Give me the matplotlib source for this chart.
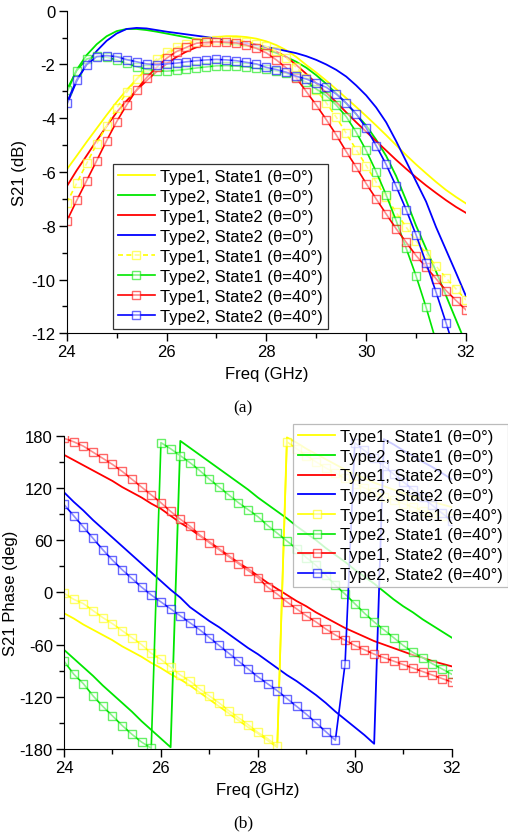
import numpy as np
import matplotlib
matplotlib.use("Agg")
import matplotlib.pyplot as plt
from matplotlib.ticker import MultipleLocator
from matplotlib.colors import to_rgba

plt.rcParams['font.family'] = ['Liberation Sans', 'DejaVu Sans']
plt.rcParams['axes.unicode_minus'] = False

# Frequency grid (GHz)
freq = np.round(np.arange(24.0, 32.0001, 0.2), 1)

labels = [
    "Type1, State1 (θ=0°)", "Type2, State1 (θ=0°)",
    "Type1, State2 (θ=0°)", "Type2, State2 (θ=0°)",
    "Type1, State1 (θ=40°)", "Type2, State1 (θ=40°)",
    "Type1, State2 (θ=40°)", "Type2, State2 (θ=40°)",
]
colors = ["#FFFF00", "#00E600", "#FF0000", "#0000FF"]

# ---------------- S21 magnitude (dB) ----------------
mag_t1s1_0 = [-5.91, -5.40, -4.88, -4.38, -3.88, -3.40, -2.95, -2.55, -2.18, -1.87,
              -1.60, -1.40, -1.24, -1.12, -1.03, -0.98, -0.95, -0.95, -0.98, -1.04,
              -1.14, -1.28, -1.47, -1.72, -2.02, -2.30, -2.60, -2.92, -3.25, -3.58,
              -3.92, -4.27, -4.63, -5.00, -5.37, -5.72, -6.05, -6.37, -6.67, -6.93, -7.17]
mag_t2s1_0 = [-3.05, -2.20, -1.65, -1.25, -0.95, -0.76, -0.68, -0.68, -0.72, -0.78,
              -0.85, -0.92, -0.99, -1.06, -1.12, -1.17, -1.21, -1.25, -1.30, -1.37,
              -1.45, -1.57, -1.72, -1.90, -2.12, -2.40, -2.72, -3.08, -3.45, -3.85,
              -4.27, -4.80, -5.40, -6.15, -7.05, -8.00, -8.85, -9.70, -10.60, -11.50, -12.40]
mag_t1s2_0 = [-6.54, -5.94, -5.39, -4.83, -4.30, -3.78, -3.35, -2.96, -2.60, -2.27,
              -1.98, -1.72, -1.52, -1.36, -1.24, -1.17, -1.14, -1.14, -1.18, -1.26,
              -1.37, -1.52, -1.72, -2.02, -2.35, -2.70, -3.05, -3.40, -3.78, -4.15,
              -4.50, -4.85, -5.20, -5.55, -5.88, -6.20, -6.50, -6.78, -7.05, -7.30, -7.52]
mag_t2s2_0 = [-3.50, -2.62, -1.98, -1.50, -1.12, -0.85, -0.68, -0.64, -0.66, -0.72,
              -0.78, -0.83, -0.88, -0.93, -0.98, -1.04, -1.10, -1.15, -1.21, -1.28,
              -1.35, -1.42, -1.50, -1.58, -1.69, -1.83, -2.00, -2.20, -2.45, -2.78,
              -3.15, -3.60, -4.15, -4.85, -5.60, -6.35, -7.10, -8.05, -8.90, -9.75, -10.62]
mag_t1s1_40 = [-7.15, -6.42, -5.68, -4.96, -4.28, -3.63, -3.04, -2.54, -2.11, -1.80,
               -1.55, -1.36, -1.24, -1.15, -1.12, -1.08, -1.08, -1.12, -1.15, -1.24,
               -1.33, -1.51, -1.76, -2.11, -2.50, -2.94, -3.43, -3.96, -4.56, -5.17,
               -5.76, -6.38, -6.94, -7.50, -8.05, -8.57, -9.04, -9.50, -9.94, -10.35, -10.76]
mag_t2s1_40 = [-2.94, -2.23, -1.80, -1.70, -1.73, -1.83, -1.96, -2.08, -2.18, -2.23,
               -2.25, -2.22, -2.18, -2.13, -2.09, -2.05, -2.04, -2.06, -2.09, -2.14,
               -2.18, -2.24, -2.33, -2.48, -2.66, -2.91, -3.16, -3.51, -3.94, -4.52,
               -5.20, -5.99, -6.85, -7.81, -8.83, -9.87, -11.03, -12.30, -13.40, -14.60, -15.80]
mag_t1s2_40 = [-7.83, -7.06, -6.32, -5.58, -4.83, -4.13, -3.51, -2.94, -2.49, -2.11,
               -1.77, -1.52, -1.36, -1.21, -1.18, -1.15, -1.18, -1.20, -1.28, -1.40,
               -1.57, -1.83, -2.13, -2.50, -3.01, -3.51, -4.05, -4.62, -5.24, -5.82,
               -6.43, -7.00, -7.56, -8.11, -8.61, -9.11, -9.54, -9.97, -10.41, -10.78, -11.13]
mag_t2s2_40 = [-3.43, -2.57, -2.01, -1.71, -1.67, -1.71, -1.82, -1.90, -1.98, -2.01,
               -1.98, -1.95, -1.90, -1.86, -1.83, -1.81, -1.83, -1.86, -1.92, -1.98,
               -2.11, -2.19, -2.29, -2.44, -2.54, -2.69, -2.85, -3.10, -3.43, -3.84,
               -4.36, -5.02, -5.72, -6.53, -7.40, -8.34, -9.38, -10.47, -11.61, -12.80, -14.00]

# ---------------- S21 phase (deg) ----------------
ph_t1s1_0 = [-24, -30, -37, -43, -49, -55, -62, -68, -74, -81,
             -87, -94, -100, -107, -115, -123, -131, -139, -147, -155,
             -162, -170, -178, 178, 172, 165, 159, 153, 147, 141,
             136, 131, 126, 122, 118, 114, 110, 107, 104, 101, 98]
ph_t2s1_0 = [-66, -76, -86, -96, -107, -117, -127, -137, -148, -158,
             -168, -178, 174, 166, 158, 150, 142, 134, 126, 118,
             109, 101, 93, 85, 76, 68, 60, 51, 43, 35,
             26, 18, 10, 1, -8, -16, -23, -31, -38, -45, -52]
ph_t1s2_0 = [158, 152, 146, 140, 134, 128, 121, 115, 109, 102,
             96, 88, 80, 73, 65, 58, 50, 42, 34, 27,
             19, 11, 4, -3, -10, -16, -23, -29, -35, -41,
             -46, -51, -56, -60, -64, -68, -72, -75, -79, -82, -85]
ph_t2s2_0 = [115, 104, 94, 83, 73, 63, 53, 43, 33, 23,
             13, 3, -6, -17, -25, -33, -40, -48, -56, -64,
             -71, -79, -87, -95, -102, -110, -118, -127, -137, -146,
             -155, -164, -174, 176, 170, 163, 157, 150, 144, 137, 130]
ph_t1s1_40 = [-1, -8, -13, -21, -29, -36, -44, -52, -60, -70,
              -77, -86, -95, -102, -111, -119, -127, -136, -144, -152,
              -161, -168, -177, 173, 165, 157, 150, 143, 137, 131,
              125, 120, 115, 110, 106, 102, 98, 94, 91, 88, 85]
ph_t2s1_40 = [-79, -94, -105, -119, -131, -142, -153, -163, -172, -179,
              172, 165, 157, 149, 140, 130, 121, 112, 103, 95,
              87, 77, 68, 59, 50, 40, 31, 20, 8, -2,
              -13, -24, -34, -43, -52, -61, -69, -75, -82, -88, -94]
ph_t1s2_40 = [177, 173, 168, 161, 154, 147, 139, 130, 121, 112,
              103, 93, 84, 76, 66, 57, 49, 41, 33, 25,
              17, 6, -2, -11, -19, -27, -34, -42, -49, -55,
              -61, -66, -71, -75, -79, -83, -87, -91, -95, -99, -103]
ph_t2s2_40 = [101, 88, 75, 62, 49, 37, 26, 16, 6, -3,
              -11, -19, -27, -35, -43, -52, -61, -70, -79, -88,
              -97, -105, -113, -122, -131, -140, -150, -160, -170, -82,
              172, 163, 154, 145, 136, 127, 118, 109, 100, 91, 82]

mag_0 = [mag_t1s1_0, mag_t2s1_0, mag_t1s2_0, mag_t2s2_0]
mag_40 = [mag_t1s1_40, mag_t2s1_40, mag_t1s2_40, mag_t2s2_40]
ph_0 = [ph_t1s1_0, ph_t2s1_0, ph_t1s2_0, ph_t2s2_0]
ph_40 = [ph_t1s1_40, ph_t2s1_40, ph_t1s2_40, ph_t2s2_40]

W, H = 508, 837
FS = 12
fig = plt.figure(figsize=(W / 100, H / 100), dpi=100)


def px_axes(left, top, right, bottom):
    return fig.add_axes([left / W, 1 - bottom / H, (right - left) / W, (bottom - top) / H])


def style_axes(ax):
    for s in ("top", "right"):
        ax.spines[s].set_visible(False)
    ax.tick_params(which="major", direction="out", length=6, width=1, labelsize=FS, pad=2)
    ax.tick_params(which="minor", direction="out", length=3.5, width=1)
    ax.xaxis.set_major_locator(MultipleLocator(2))
    ax.xaxis.set_minor_locator(MultipleLocator(1))


def draw_curves(ax, d0, d40, dashed_first):
    handles = []
    for c, y, lab in zip(colors, d0, labels[:4]):
        h, = ax.plot(freq, y, color=c, lw=1.3, label=lab)
        handles.append(h)
    for i, (c, y, lab) in enumerate(zip(colors, d40, labels[4:])):
        ls = (0, (3, 2)) if (i == 0 and dashed_first) else "-"
        h, = ax.plot(freq, y, color=c, lw=1.2, ls=ls, marker="s", ms=5.2,
                     mec=to_rgba(c, 0.6), mfc=(1, 1, 1, 0.55), mew=1.0, label=lab)
        handles.append(h)
    return handles


def make_legend(ax, handles, edge, alpha, spacing, **kw):
    leg = ax.legend(handles=handles, borderaxespad=0, fontsize=FS, frameon=True,
                    fancybox=False, edgecolor=edge, framealpha=alpha,
                    handlelength=2.2, handletextpad=0.3, labelspacing=spacing,
                    borderpad=0.3, **kw)
    leg.get_frame().set_linewidth(0.9)
    return leg


# (a) magnitude
ax1 = px_axes(66.7, 11.7, 466, 334.3)
style_axes(ax1)
h1 = draw_curves(ax1, mag_0, mag_40, True)
ax1.set_xlim(24, 32)
ax1.set_ylim(-12, 0)
ax1.yaxis.set_major_locator(MultipleLocator(2))
ax1.yaxis.set_minor_locator(MultipleLocator(1))
ax1.set_xlabel("Freq (GHz)", fontsize=FS, labelpad=5)
ax1.set_ylabel("S21 (dB)", fontsize=FS, labelpad=3)
make_legend(ax1, h1, "#333333", 1, 0.3, loc="lower left", bbox_to_anchor=(0.116, 0.013))

# (b) phase
ax2 = px_axes(64, 436.7, 451.7, 750)
style_axes(ax2)
h2 = draw_curves(ax2, ph_0, ph_40, False)
ax2.set_xlim(24, 32)
ax2.set_ylim(-180, 180)
ax2.yaxis.set_major_locator(MultipleLocator(60))
ax2.yaxis.set_minor_locator(MultipleLocator(30))
ax2.set_xlabel("Freq (GHz)", fontsize=FS, labelpad=5)
ax2.set_ylabel("S21 Phase (deg)", fontsize=FS, labelpad=1)
make_legend(ax2, h2, "#AAAAAA", 0.8, 0.28, loc="upper right", bbox_to_anchor=(1.145, 1.037))

fig.text(243 / W, 1 - 408 / H, "(a)", ha="center", va="center",
         family=["Liberation Serif", "DejaVu Serif"], fontsize=12.5)
fig.text(243 / W, 1 - 823 / H, "(b)", ha="center", va="center",
         family=["Liberation Serif", "DejaVu Serif"], fontsize=12.5)

fig.savefig("out.png", dpi=100)
